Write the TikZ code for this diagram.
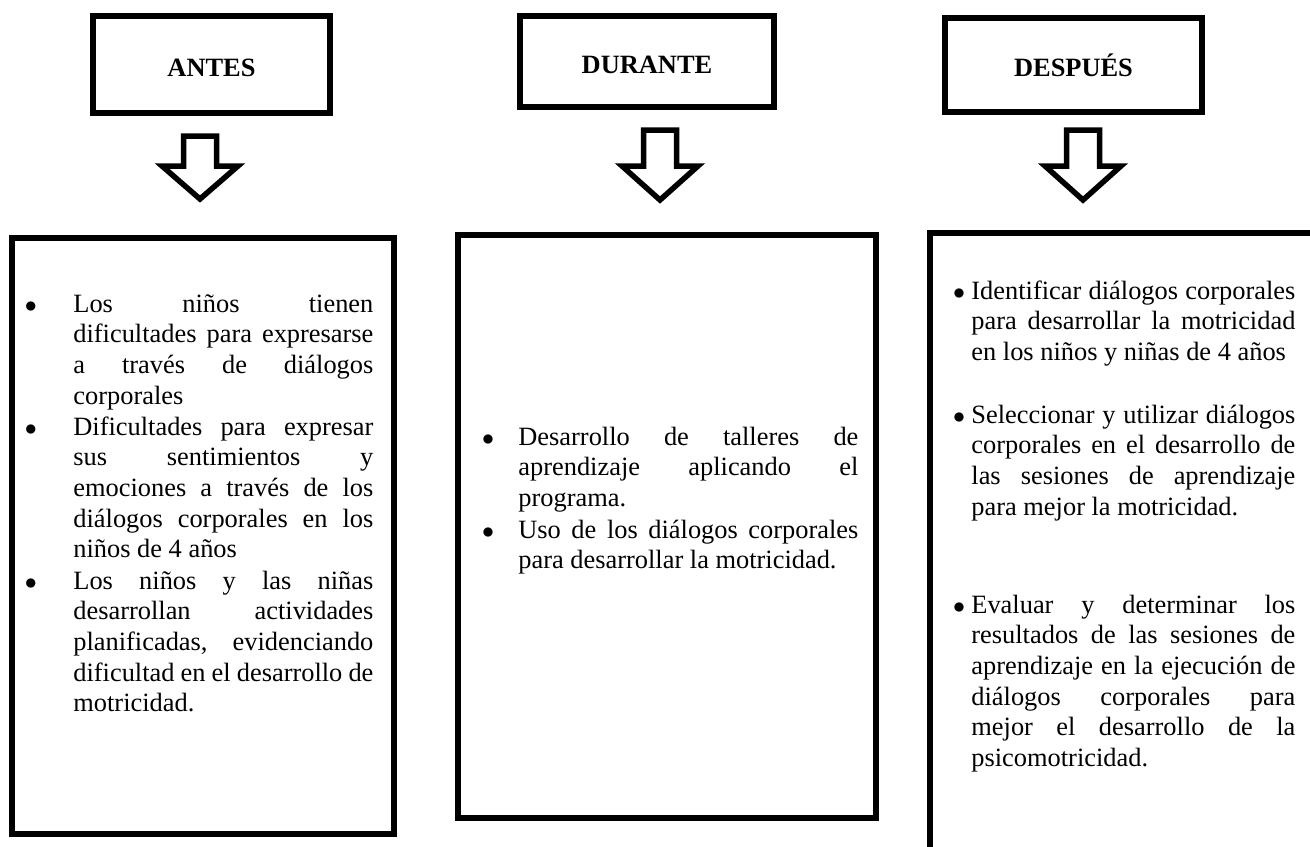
\documentclass[tikz,border=0pt]{standalone}
\usepackage{fontspec}
\setmainfont{Liberation Serif}

\newcommand{\bul}[1]{\llap{$\bullet$\hspace*{#1}}}
\newcommand{\listfont}{\fontsize{13.2}{15.35}\selectfont\hyphenpenalty=10000\relax\tolerance=10000\relax\hbadness=10000\relax}

\tikzset{
  titlebox/.style = {draw, line width=3pt, inner sep=0pt, text height=11.7pt, text depth=0pt,
                     font=\bfseries\fontsize{13.2}{15.35}\selectfont},
  listbox/.style = {draw, line width=3pt, inner sep=0pt},
  itemtext/.style = {anchor=base west, inner sep=0pt, align=justify, font=\listfont},
  blockarrow/.style = {line width=2.75pt, line join=miter}
}

\begin{document}
\begin{tikzpicture}[x=0.5pt,y=-0.5pt]
\useasboundingbox (0,0) rectangle (1310,846);

% title boxes
\node [titlebox, minimum width=118.5pt, minimum height=48.5pt] (antes) at (211.5,64.5) {ANTES};
\node [titlebox, minimum width=127pt, minimum height=45.5pt] (durante) at (647,61.5) {DURANTE};
\node [titlebox, minimum width=128.5pt, minimum height=47pt] (despues) at (1073.5,65) {DESPUÉS};

% block arrows
\draw [blockarrow] (183.5,136) -- (216.5,136) -- (216.5,166) -- (238,166) -- (200,199) -- (162,166) -- (183.5,166) -- cycle;
\draw [blockarrow] (643.5,130) -- (676.5,130) -- (676.5,166) -- (698,166) -- (660,200) -- (622,166) -- (643.5,166) -- cycle;
\draw [blockarrow] (1066.5,130) -- (1099.5,130) -- (1099.5,166) -- (1121,166) -- (1083,200) -- (1045,166) -- (1066.5,166) -- cycle;

% list boxes
\node [listbox, minimum width=191pt, minimum height=298pt] (antesbox) at (203,536) {};
\node [listbox, minimum width=209pt, minimum height=291.5pt] (durantebox) at (667,526.5) {};
\node [listbox, minimum width=193pt, minimum height=313.5pt] (despuesbox) at (1123,546.5) {};

% antes
\node [itemtext, text width=150pt] (antes1) at (73,312) {\bul{18.2pt}Los niños tienen\linebreak dificultades para expresarse\linebreak a través de diálogos\linebreak corporales};
\node [itemtext, text width=150pt] (antes2) at (73,435) {\bul{18.2pt}Dificultades para expresar\linebreak sus sentimientos y\linebreak emociones a través de los\linebreak diálogos corporales en los\linebreak niños de 4 años};
\node [itemtext, text width=150pt] (antes3) at (73,589) {\bul{18.2pt}Los niños y las niñas\linebreak desarrollan actividades\linebreak planificadas, evidenciando\linebreak dificultad en el desarrollo de\linebreak motricidad.};

% durante
\node [itemtext, text width=170pt] (durante1) at (518,445) {\bul{12.2pt}Desarrollo de talleres de\linebreak aprendizaje aplicando el\linebreak programa.};
\node [itemtext, text width=170pt] (durante2) at (518,538) {\bul{12.2pt}Uso de los diálogos corporales\linebreak para desarrollar la motricidad.};

% despues
\node [itemtext, text width=162pt] (despues1) at (971,299) {\bul{3.2pt}Identificar diálogos corporales\linebreak para desarrollar la motricidad\linebreak en los niños y niñas de 4 años};
\node [itemtext, text width=162pt] (despues2) at (971,423) {\bul{3.2pt}Seleccionar y utilizar diálogos\linebreak corporales en el desarrollo de\linebreak las sesiones de aprendizaje\linebreak para mejor la motricidad.};
\node [itemtext, text width=162pt] (despues3) at (971,613) {\bul{3.2pt}Evaluar y determinar los\linebreak resultados de las sesiones de\linebreak aprendizaje en la ejecución de\linebreak diálogos corporales para\linebreak mejor el desarrollo de la\linebreak psicomotricidad.};

\end{tikzpicture}
\end{document}
